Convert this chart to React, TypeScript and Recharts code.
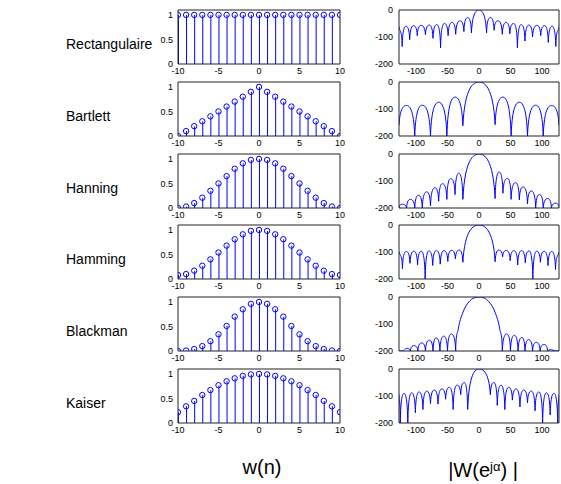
import React from "react";
import { ComposedChart, Bar, Scatter, Line, XAxis, YAxis } from "recharts";

const BLUE = "#0000ff";
const FONT = "Arial, 'Liberation Sans', sans-serif";

// indices n = -10..10
const nIdx = [-10, -9, -8, -7, -6, -5, -4, -3, -2, -1, 0, 1, 2, 3, 4, 5, 6, 7, 8, 9, 10];

// w(n) read from the stems
const rectW = [1, 1, 1, 1, 1, 1, 1, 1, 1, 1, 1, 1, 1, 1, 1, 1, 1, 1, 1, 1, 1];
const bartlettW = [0, 0.1, 0.2, 0.3, 0.4, 0.5, 0.6, 0.7, 0.8, 0.9, 1, 0.9, 0.8, 0.7, 0.6, 0.5, 0.4, 0.3, 0.2, 0.1, 0];
const hanningW = [0, 0.03, 0.1, 0.21, 0.35, 0.5, 0.65, 0.8, 0.91, 0.98, 1, 0.98, 0.91, 0.8, 0.65, 0.5, 0.35, 0.21, 0.1, 0.03, 0];
const hammingW = [0.08, 0.1, 0.17, 0.27, 0.4, 0.54, 0.68, 0.81, 0.91, 0.98, 1, 0.98, 0.91, 0.81, 0.68, 0.54, 0.4, 0.27, 0.17, 0.1, 0.08];
const blackmanW = [0, 0.01, 0.04, 0.1, 0.2, 0.34, 0.51, 0.7, 0.85, 0.96, 1, 0.96, 0.85, 0.7, 0.51, 0.34, 0.2, 0.1, 0.04, 0.01, 0];
const kaiserW = [0.22, 0.34, 0.45, 0.57, 0.67, 0.77, 0.85, 0.91, 0.96, 0.99, 1, 0.99, 0.96, 0.91, 0.85, 0.77, 0.67, 0.57, 0.45, 0.34, 0.22];

// |W| in dB: lobe peaks and nulls [freq, value]
const rectResp = [
  [-127, -62], [-122, -135], [-116, -60], [-110, -110], [-104, -58], [-98, -95], [-92, -57], [-85, -92],
  [-79, -56], [-73, -105], [-67, -54], [-61, -140], [-55, -50], [-49, -95], [-43, -46], [-37, -90],
  [-30, -40], [-24, -80], [-18, -28], [-12, -85], [0, 0], [12, -85], [18, -28], [24, -75], [30, -40],
  [37, -90], [43, -46], [49, -88], [55, -50], [61, -140], [67, -54], [73, -115], [79, -56], [85, -100],
  [92, -57], [98, -95], [104, -58], [110, -120], [116, -60], [122, -135], [127, -62],
];
const bartlettResp = [
  [-127, -160], [-115, -87], [-102, -200], [-90, -86], [-77, -200], [-64, -75], [-51, -200], [-38, -56],
  [-25.6, -162], [0, 0], [25.6, -158], [38, -56], [51, -200], [64, -75], [77, -200], [90, -86],
  [102, -200], [115, -87], [127, -160],
];
const hanningResp = [
  [-127, -200], [-122, -186], [-115, -200], [-109, -168], [-102, -200], [-96, -153], [-90, -200], [-83, -140],
  [-77, -192], [-70, -125], [-64, -175], [-58, -110], [-51, -168], [-45, -91], [-38, -150], [-32, -71],
  [-25.6, -168], [0, 0], [25.6, -165], [32, -67], [38, -145], [45, -90], [51, -168], [58, -106], [64, -170],
  [70, -122], [77, -185], [83, -137], [90, -200], [96, -150], [102, -200], [109, -165], [115, -200],
  [122, -182], [127, -200],
];
const hammingResp = [
  [-127, -98], [-121.5, -162], [-115.5, -98], [-109.5, -142], [-103.5, -97], [-97.5, -148], [-91.5, -97],
  [-85.5, -200], [-79.5, -96], [-73.5, -150], [-67.5, -95], [-61.5, -145], [-55.5, -95], [-49.5, -135],
  [-43.5, -94], [-37.5, -125], [-31.5, -93], [-25.6, -138], [0, 0], [25.6, -136], [31.5, -93], [37.5, -118],
  [43.5, -94], [49.5, -132], [55.5, -95], [61.5, -148], [67.5, -95], [73.5, -140], [79.5, -96], [85.5, -200],
  [91.5, -97], [97.5, -138], [103.5, -97], [109.5, -150], [115.5, -98], [121.5, -165], [127, -100],
];
const blackmanResp = [
  [-127, -200], [-121, -200], [-115, -190], [-109, -200], [-103, -180], [-97, -200], [-91, -170], [-85, -200],
  [-79, -160], [-73, -200], [-68, -152], [-62, -200], [-56, -145], [-50, -200], [-44, -137], [-37, -200],
  [-33, -120], [-26, -60], [-16, -18], [0, 0], [16, -18], [26, -60], [33, -120], [37, -200], [44, -137],
  [50, -200], [56, -142], [62, -200], [68, -150], [73, -200], [79, -158], [85, -200], [91, -168], [97, -200],
  [103, -176], [109, -200], [115, -195], [121, -200], [127, -200],
];
const kaiserResp = [
  [-127, -95], [-125, -200], [-119, -90], [-113, -200], [-107, -88], [-101, -162], [-95, -85], [-89, -150],
  [-83, -82], [-77, -128], [-71, -78], [-65, -130], [-59, -74], [-53, -112], [-47, -68], [-41, -150],
  [-35, -60], [-29, -95], [-23.5, -50], [-18, -150], [0, 0], [18, -95], [23.5, -50], [29, -135], [35, -60],
  [41, -150], [47, -68], [53, -115], [59, -74], [65, -140], [71, -78], [77, -125], [83, -82], [89, -155],
  [95, -85], [101, -200], [107, -88], [113, -170], [119, -90], [125, -200], [127, -95],
];

const WINDOWS = [
  { name: "Rectangulaire", w: rectW, resp: rectResp },
  { name: "Bartlett", w: bartlettW, resp: bartlettResp },
  { name: "Hanning", w: hanningW, resp: hanningResp },
  { name: "Hamming", w: hammingW, resp: hammingResp },
  { name: "Blackman", w: blackmanW, resp: blackmanResp },
  { name: "Kaiser", w: kaiserW, resp: kaiserResp },
];

// dB lobes: sharp cusp at each null, flat top at each peak
function lobeCurve(ctx: any) {
  let pts: number[][] = [];
  const kind = (i: number) => {
    const p = pts[i], a = pts[i - 1], b = pts[i + 1];
    if ((!a || a[1] < p[1]) && (!b || b[1] < p[1])) return "null";
    if (a && b && a[1] > p[1] && b[1] > p[1]) return "peak";
    return "mid";
  };
  const slope = (i: number, s: number) => {
    const p = pts[i], a = pts[i - 1], b = pts[i + 1];
    if (kind(i) === "peak") return 0;
    if (!a || !b) return s;
    const s0 = (p[1] - a[1]) / (p[0] - a[0]);
    const s1 = (b[1] - p[1]) / (b[0] - p[0]);
    return s0 * s1 <= 0 ? 0 : (s0 + s1) / 2;
  };
  return {
    areaStart() {},
    areaEnd() {},
    lineStart() {
      pts = [];
    },
    point(x: number, y: number) {
      pts.push([+x, +y]);
    },
    lineEnd() {
      if (!pts.length) return;
      ctx.moveTo(pts[0][0], pts[0][1]);
      for (let i = 0; i < pts.length - 1; i++) {
        const [x0, y0] = pts[i];
        const [x1, y1] = pts[i + 1];
        const dx = x1 - x0, dy = y1 - y0, s = dy / dx, h = dx / 3;
        const c1 = kind(i) === "null" ? [x0 + 0.12 * dx, y0 + 0.9 * dy] : [x0 + h, y0 + slope(i, s) * h];
        const c2 = kind(i + 1) === "null" ? [x1 - 0.12 * dx, y1 - 0.9 * dy] : [x1 - h, y1 - slope(i + 1, s) * h];
        ctx.bezierCurveTo(c1[0], c1[1], c2[0], c2[1], x1, y1);
      }
    },
  };
}

const TICK = { fontSize: 9, fill: "#000", fontFamily: FONT };
const AXIS = { stroke: "#222" };

// MATLAB style box with inward ticks
const boxAxes = (xd: number[], xt: number[], yd: number[], yt: number[]) => [
  <XAxis key="xb" xAxisId="xb" type="number" domain={xd} ticks={xt} interval={0} orientation="bottom" mirror
    allowDataOverflow tick={false} axisLine={false} tickLine={AXIS} tickSize={3} />,
  <XAxis key="xt" xAxisId="xt" type="number" domain={xd} ticks={xt} interval={0} orientation="top" mirror
    allowDataOverflow tick={false} axisLine={AXIS} tickLine={AXIS} tickSize={3} />,
  <YAxis key="yl" yAxisId="yl" type="number" domain={yd} ticks={yt} interval={0} orientation="left" mirror
    allowDataOverflow tick={false} axisLine={false} tickLine={AXIS} tickSize={3} />,
  <YAxis key="yr" yAxisId="yr" type="number" domain={yd} ticks={yt} interval={0} orientation="right" mirror
    allowDataOverflow tick={false} axisLine={AXIS} tickLine={AXIS} tickSize={3} />,
];

const circle = (p: any) => <circle cx={p.cx} cy={p.cy} r={2.7} fill="none" stroke={BLUE} strokeWidth={1} />;

function StemChart({ values, top }: { values: number[]; top: number }) {
  const data = nIdx.map((n, i) => ({ n, w: values[i] }));
  return (
    <div style={{ position: "absolute", left: 156, top: top - 4 }}>
      <ComposedChart width={192} height={72} data={data} margin={{ top: 4, right: 8, bottom: 0, left: 0 }}>
        <XAxis dataKey="n" type="number" domain={[-10, 10]} ticks={[-10, -5, 0, 5, 10]} interval={0} height={14}
          allowDataOverflow tick={TICK} tickLine={false} tickSize={3} tickMargin={1} axisLine={AXIS} />
        <YAxis type="number" domain={[0, 1.1]} ticks={[0, 0.5, 1]} interval={0} width={22}
          allowDataOverflow tick={TICK} tickLine={false} tickSize={3} tickMargin={2} axisLine={AXIS} />
        {boxAxes([-10, 10], [-10, -5, 0, 5, 10], [0, 1.1], [0, 0.5, 1])}
        <Bar dataKey="w" barSize={1} fill={BLUE} isAnimationActive={false} />
        <Scatter dataKey="w" shape={circle} isAnimationActive={false} />
      </ComposedChart>
    </div>
  );
}

function RespChart({ resp, top }: { resp: number[][]; top: number }) {
  const data = resp.map(([f, v]) => ({ f, v }));
  return (
    <div style={{ position: "absolute", left: 371, top: top - 4 }}>
      <ComposedChart width={190} height={72} data={data} margin={{ top: 4, right: 2, bottom: 0, left: 0 }}>
        <XAxis dataKey="f" type="number" domain={[-127, 127]} ticks={[-100, -50, 0, 50, 100]} interval={0} height={14}
          allowDataOverflow tick={TICK} tickLine={false} tickSize={3} tickMargin={1} axisLine={AXIS} />
        <YAxis type="number" domain={[-200, 0]} ticks={[-200, -100, 0]} interval={0} width={28}
          allowDataOverflow tick={TICK} tickLine={false} tickSize={3} tickMargin={3} axisLine={AXIS} />
        {boxAxes([-127, 127], [-100, -50, 0, 50, 100], [-200, 0], [-200, -100, 0])}
        <Line dataKey="v" type={lobeCurve as any} stroke={BLUE} strokeWidth={1} dot={false} isAnimationActive={false} />
      </ComposedChart>
    </div>
  );
}

export default function App() {
  return (
    <div style={{ position: "absolute", left: 0, top: 0, width: 561, height: 484, background: "#fff", overflow: "hidden", fontFamily: FONT }}>
      {WINDOWS.map((win, i) => {
        const top = 10 + i * 71.8;
        return (
          <React.Fragment key={win.name}>
            <div style={{ position: "absolute", left: 66, top: top + 26, fontSize: 14, lineHeight: "16px", color: "#000" }}>
              {win.name}
            </div>
            <StemChart values={win.w} top={top} />
            <RespChart resp={win.resp} top={top} />
          </React.Fragment>
        );
      })}
      <div style={{ position: "absolute", left: 200, width: 124, top: 455, textAlign: "center", fontSize: 20, lineHeight: "24px" }}>
        w(n)
      </div>
      <div style={{ position: "absolute", left: 420, width: 126, top: 455, textAlign: "center", fontSize: 20, lineHeight: "24px" }}>
        |W(e<span style={{ fontSize: 13, verticalAlign: "6px" }}>jα</span>) |
      </div>
    </div>
  );
}
